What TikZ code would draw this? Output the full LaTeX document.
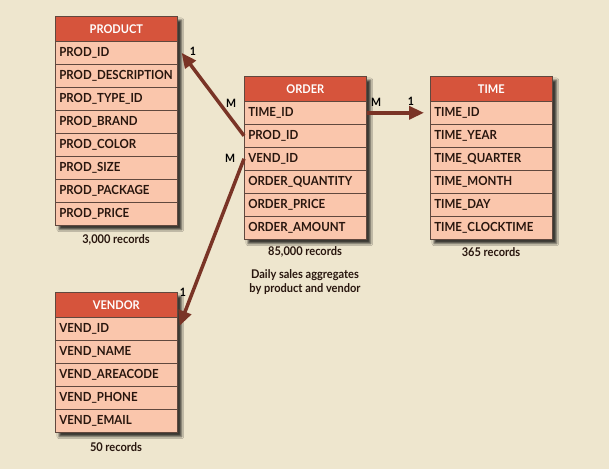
\documentclass[tikz,border=0pt]{standalone}
\usepackage{fontspec}
\setmainfont{Lato}[FakeStretch=0.92]
\usetikzlibrary{arrows.meta,shadows.blur,fit,backgrounds}

\definecolor{bgtan}{RGB}{238,230,206}
\definecolor{hdrred}{RGB}{214,84,60}
\definecolor{rowpink}{RGB}{250,198,172}
\definecolor{rowline}{RGB}{96,72,62}
\definecolor{linkbrown}{RGB}{122,52,38}
\definecolor{txtdark}{RGB}{40,22,14}

\tikzset{
  hdr/.style={draw=rowline, line width=0.6pt, fill=hdrred, text=white, anchor=north west,
    minimum width=122pt, minimum height=25pt, inner sep=0pt, font=\bfseries\fontsize{12}{14}\selectfont},
  fld/.style={draw=rowline, line width=0.6pt, fill=rowpink, text=txtdark, anchor=north west,
    text width=114pt, inner xsep=4pt, inner ysep=0pt, minimum height=23pt, align=left,
    font=\bfseries\fontsize{12.5}{14}\selectfont},
  tblback/.style={inner sep=0pt, fill=rowpink,
    blur shadow={shadow xshift=4pt, shadow yshift=-4pt, shadow opacity=75, shadow blur steps=6}},
  rec/.style={text=txtdark, font=\bfseries\fontsize{12}{14}\selectfont, align=center},
  card/.style={text=black, font=\bfseries\fontsize{11.5}{13}\selectfont, inner sep=1pt},
  link/.style={draw=linkbrown, line width=3.5pt, -{Triangle[length=15pt,width=13pt]}}
}

\begin{document}
\begin{tikzpicture}[x=1pt,y=-1pt]
  \begin{scope}[on background layer]
    \fill[bgtan] (0,0) rectangle (609,469);
  \end{scope}
  \useasboundingbox (0,0) rectangle (609,469);

  % product table
  \node[hdr] (prod) at (55,16) {PRODUCT};
  \foreach \f [count=\i] in {PROD\_ID, PROD\_DESCRIPTION, PROD\_TYPE\_ID, PROD\_BRAND,
    PROD\_COLOR, PROD\_SIZE, PROD\_PACKAGE, PROD\_PRICE}
  {
    \node[fld] (prod-\i) at (55,{41+23*(\i-1)}) {\f};
  }
  \begin{scope}[on background layer]
    \node[tblback, fit=(prod)(prod-8)] (prodbox) {};
  \end{scope}

  % order table
  \node[hdr] (ord) at (244,76) {ORDER};
  \foreach \f [count=\i] in {TIME\_ID, PROD\_ID, VEND\_ID, ORDER\_QUANTITY,
    ORDER\_PRICE, ORDER\_AMOUNT}
  {
    \node[fld] (ord-\i) at (244,{101+23*(\i-1)}) {\f};
  }
  \begin{scope}[on background layer]
    \node[tblback, fit=(ord)(ord-6)] (ordbox) {};
  \end{scope}

  % time table
  \node[hdr] (time) at (430,76) {TIME};
  \foreach \f [count=\i] in {TIME\_ID, TIME\_YEAR, TIME\_QUARTER, TIME\_MONTH,
    TIME\_DAY, TIME\_CLOCKTIME}
  {
    \node[fld] (time-\i) at (430,{101+23*(\i-1)}) {\f};
  }
  \begin{scope}[on background layer]
    \node[tblback, fit=(time)(time-6)] (timebox) {};
  \end{scope}

  % vendor table
  \node[hdr] (vend) at (55,292) {VENDOR};
  \foreach \f [count=\i] in {VEND\_ID, VEND\_NAME, VEND\_AREACODE, VEND\_PHONE, VEND\_EMAIL}
  {
    \node[fld] (vend-\i) at (55,{317+23*(\i-1)}) {\f};
  }
  \begin{scope}[on background layer]
    \node[tblback, fit=(vend)(vend-5)] (vendbox) {};
  \end{scope}

  % record counts
  \node[rec] (prodrec) at (116,240) {3,000 records};
  \node[rec] (ordrec)  at (305,252) {85,000 records};
  \node[rec] (timerec) at (491,252) {365 records};
  \node[rec] (vendrec) at (116,447) {50 records};
  \node[rec] (ordnote) at (305,282) {Daily sales aggregates\\by product and vendor};

  % links
  \draw[link] (ord-2.west) -- ([xshift=4pt]prod-1.east);
  \draw[link] (ord-3.west) -- ([xshift=2pt,yshift=3pt]vend-1.east);
  \draw[link] (ord-1.east) -- ([xshift=-6pt]time-1.west);

  \node[card] (c1) at (193,51)  {1};
  \node[card] (c2) at (231,103) {M};
  \node[card] (c3) at (230,158) {M};
  \node[card] (c4) at (183,292) {1};
  \node[card] (c5) at (376,102) {M};
  \node[card] (c6) at (411,101) {1};
\end{tikzpicture}
\end{document}
